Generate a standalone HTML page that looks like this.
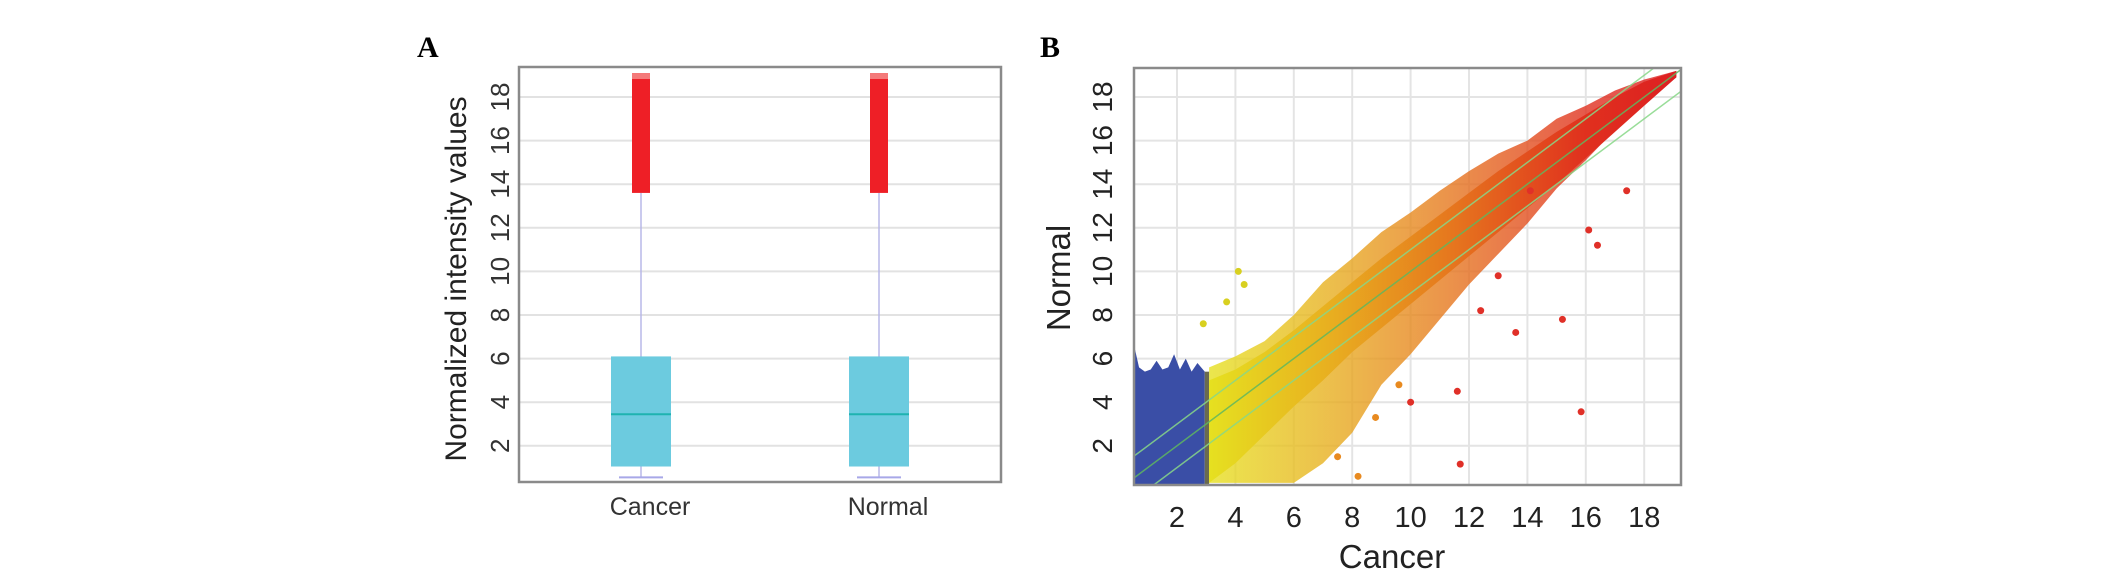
<!DOCTYPE html>
<html><head><meta charset="utf-8"><style>
html,body{margin:0;padding:0;background:#fff;}
svg{display:block;font-family:"Liberation Sans",sans-serif;}
</style></head><body>
<svg id="fig" width="2126" height="578" viewBox="0 0 2126 578">
<defs>
<linearGradient id="grad" gradientUnits="userSpaceOnUse" x1="1210" y1="0" x2="1680" y2="0">
<stop offset="0" stop-color="#e6e020"/><stop offset="0.25" stop-color="#e8b020"/><stop offset="0.5" stop-color="#e67a1e"/><stop offset="0.8" stop-color="#e0301e"/><stop offset="1" stop-color="#dd1f22"/>
</linearGradient>
<clipPath id="clipB"><rect x="1134" y="68" width="547" height="417"/></clipPath>
</defs>
<text x="417" y="57" font-family="Liberation Serif" font-weight="bold" font-size="30">A</text>
<text x="1040" y="57" font-family="Liberation Serif" font-weight="bold" font-size="30">B</text>
<g id="pa"></g>
<g id="pb"></g>
</svg>
<script>
// Panel A data
const categories = ["Cancer","Normal"];
const boxLow = [1.05, 1.05];
const boxHigh = [6.1, 6.1];
const medians = [3.45, 3.45];
const whiskerLow = [0.55, 0.55];
const outlierLow = [13.6, 13.6];
const outlierHigh = [19.1, 19.1];
const yTicks = [2,4,6,8,10,12,14,16,18];
// Panel B data
const xTicksB = [2,4,6,8,10,12,14,16,18];
const blueX = [0.53,0.7,0.9,1.1,1.3,1.5,1.7,1.9,2.1,2.3,2.5,2.7,2.95];
const blueTop = [6.6,5.6,5.4,5.5,5.9,5.5,5.6,6.2,5.5,6.0,5.4,5.8,5.4];
const cloudX = [3.1,4,5,6,7,8,9,10,11,12,13,14,15,16,17,18,19.1];
const cloudUpper = [5.6,6.1,6.8,8.0,9.5,10.6,11.8,12.7,13.7,14.6,15.4,16.0,17.0,17.6,18.3,18.8,19.2];
const cloudLower = [0.3,0.3,0.3,0.3,1.2,2.6,4.8,6.2,7.8,9.4,10.8,12.2,13.8,15.1,16.5,17.8,18.9];
const coreUpper = [5.0,5.5,6.3,7.3,8.4,9.5,10.6,11.6,12.6,13.6,14.6,15.5,16.4,17.2,18.0,18.7,19.2];
const coreLower = [0.3,1.2,2.5,3.8,5.0,6.3,7.4,8.5,9.6,10.7,11.8,12.9,14.0,15.2,16.4,17.6,18.9];
const outX = [15.84,11.7,13.6,15.2,17.4,16.1,16.4,14.1,4.1,4.3,3.7,2.9,11.6,10.0,8.8,7.5,8.2,12.4,13.0,9.6];
const outY = [3.56,1.16,7.2,7.8,13.7,11.9,11.2,13.7,10.0,9.4,8.6,7.6,4.5,4.0,3.3,1.5,0.6,8.2,9.8,4.8];

const NS="http://www.w3.org/2000/svg";
function mk(parent,tag,attrs){const e=document.createElementNS(NS,tag);for(const k in attrs)e.setAttribute(k,attrs[k]);parent.appendChild(e);return e;}
const yS = v => 97 + (18 - v) * 21.8;
const xA = i => [641,879][i];
const xB = v => 1177 + (v - 2) * 29.2;

// ----- Panel A -----
const pa=document.getElementById('pa');
let r=mk(pa,'rect',{x:519,y:67,width:482,height:415,fill:'#fff'});

yTicks.forEach(t=>{
  let g=mk(pa,'line',{x1:519,x2:1001,y1:yS(t),y2:yS(t),stroke:'#e2e2e2','stroke-width':2});
  
  let tx=mk(pa,'text',{x:0,y:0,'font-size':26,fill:'#333','text-anchor':'middle',transform:`translate(509,${yS(t)}) rotate(-90)`});
  tx.textContent=t;
  
});
categories.forEach((c,i)=>{
  const cx=xA(i);
  let w=mk(pa,'line',{x1:cx,x2:cx,y1:yS(outlierLow[i]),y2:yS(whiskerLow[i]),stroke:'#b8b8e8','stroke-width':1.5});
  
  let wl=mk(pa,'line',{x1:cx-22,x2:cx+22,y1:yS(whiskerLow[i]),y2:yS(whiskerLow[i]),stroke:'#a8a8e8','stroke-width':2});
  
  let o=mk(pa,'rect',{x:cx-9,y:yS(outlierHigh[i]),width:18,height:yS(outlierLow[i])-yS(outlierHigh[i]),fill:'#ee1f26'});
  
  let ot=mk(pa,'rect',{x:cx-9,y:yS(outlierHigh[i]),width:18,height:6,fill:'#f47a7a'});
  
  let b=mk(pa,'rect',{x:cx-30,y:yS(boxHigh[i]),width:60,height:yS(boxLow[i])-yS(boxHigh[i]),fill:'#6ccbdf'});
  
  let m=mk(pa,'line',{x1:cx-30,x2:cx+30,y1:yS(medians[i]),y2:yS(medians[i]),stroke:'#1fb3b0','stroke-width':2});
  
  let l=mk(pa,'text',{x:cx+9,y:515,'font-size':25,fill:'#333','text-anchor':'middle'});
  l.textContent=c;
  
});
let fa=mk(pa,'rect',{x:519,y:67,width:482,height:415,fill:'none',stroke:'#8a8a8a','stroke-width':2.5});

let yla=mk(pa,'text',{x:0,y:0,'font-size':30,fill:'#222','text-anchor':'middle',transform:'translate(466,279) rotate(-90)'});
yla.textContent='Normalized intensity values';


// ----- Panel B -----
const pb=document.getElementById('pb');
xTicksB.forEach(t=>{
  let g=mk(pb,'line',{x1:xB(t),x2:xB(t),y1:68,y2:485,stroke:'#e4e4e4','stroke-width':2});
  
  let tx=mk(pb,'text',{x:xB(t),y:527,'font-size':29,fill:'#222','text-anchor':'middle'});
  tx.textContent=t;
  
});
yTicks.forEach(t=>{
  let g=mk(pb,'line',{x1:1134,x2:1681,y1:yS(t),y2:yS(t),stroke:'#e4e4e4','stroke-width':2});
  
  let tx=mk(pb,'text',{x:0,y:0,'font-size':28,fill:'#222','text-anchor':'middle',transform:`translate(1112,${yS(t)}) rotate(-90)`});
  tx.textContent=t;
  
});
const plot=mk(pb,'g',{'clip-path':'url(#clipB)'});


// blue region
let bp=`M${xB(blueX[0])},${yS(0.2)} `;
blueX.forEach((x,i)=>{bp+=`L${xB(x)},${yS(blueTop[i])} `;});
bp+=`L${xB(blueX[blueX.length-1])},${yS(0.2)} Z`;
let blue=mk(plot,'path',{d:bp,fill:'#3a4ea6'});

let trans=mk(plot,'rect',{x:xB(2.95),y:yS(5.4),width:xB(3.1)-xB(2.95),height:yS(0.2)-yS(5.4),fill:'#6a6a50'});

// outer cloud
let cp='';
cloudX.forEach((x,i)=>{cp+=(i?'L':'M')+xB(x)+','+yS(cloudUpper[i])+' ';});
for(let i=cloudX.length-1;i>=0;i--){cp+='L'+xB(cloudX[i])+','+yS(cloudLower[i])+' ';}
cp+='Z';
let cloud=mk(plot,'path',{d:cp,fill:'url(#grad)',opacity:0.8});

let kp='';
cloudX.forEach((x,i)=>{kp+=(i?'L':'M')+xB(x)+','+yS(coreUpper[i])+' ';});
for(let i=cloudX.length-1;i>=0;i--){kp+='L'+xB(cloudX[i])+','+yS(coreLower[i])+' ';}
kp+='Z';
let core=mk(plot,'path',{d:kp,fill:'url(#grad)'});

outX.forEach((x,i)=>{
  let c=mk(plot,'circle',{cx:xB(x),cy:yS(outY[i]),r:3.5,fill:x<5?'#d8d020':(x<10?'#e88a20':'#e03028')});
  
});
// fold-change lines
[-1,0,1].forEach(d=>{
  const x0=0, x1=20;
  let ln=mk(plot,'line',{x1:xB(x0),y1:yS(x0+d),x2:xB(x1),y2:yS(x1+d),stroke:d===0?'#5fb85f':'#88d888','stroke-width':1.5,opacity:0.85});
  
});
let fb=mk(pb,'rect',{x:1134,y:68,width:547,height:417,fill:'none',stroke:'#8a8a8a','stroke-width':2.5});

let ylb=mk(pb,'text',{x:0,y:0,'font-size':33,fill:'#222','text-anchor':'middle',transform:'translate(1070,278) rotate(-90)'});
ylb.textContent='Normal';

let xlb=mk(pb,'text',{x:1392,y:568,'font-size':33,fill:'#222','text-anchor':'middle'});
xlb.textContent='Cancer';

</script>
</body></html>
